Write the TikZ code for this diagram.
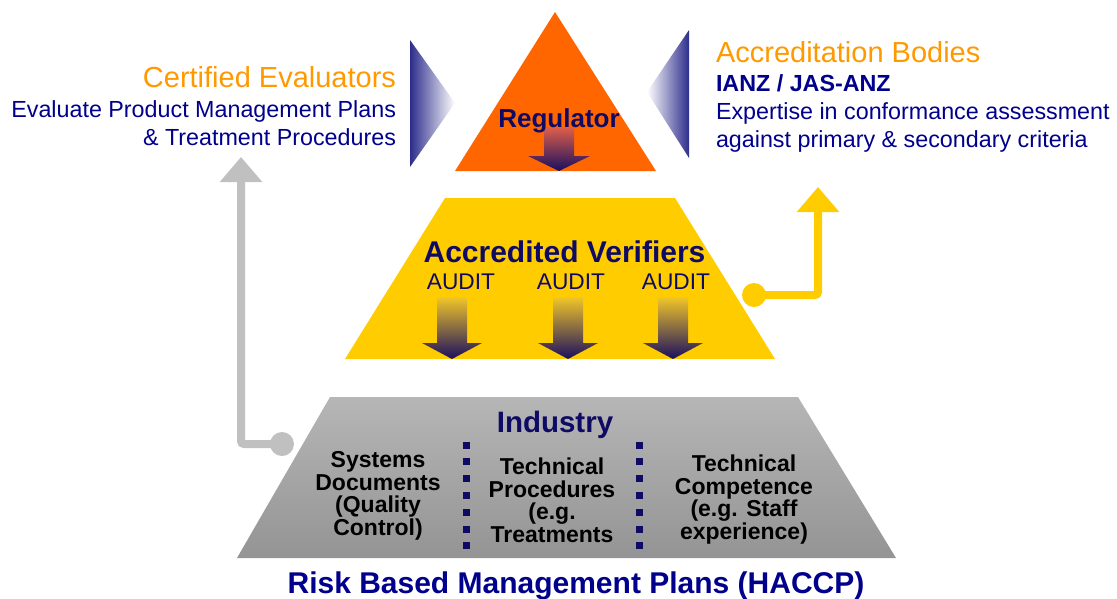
\documentclass[tikz,border=0pt]{standalone}
\usepackage{fontspec}
\setmainfont{Liberation Sans}
\usetikzlibrary{arrows.meta}
\definecolor{navy}{RGB}{0,0,140}
\definecolor{dnavy}{RGB}{15,10,100}
\definecolor{orTri}{RGB}{255,102,0}
\definecolor{orTxt}{RGB}{255,153,0}
\definecolor{yel}{RGB}{255,204,0}
\definecolor{wedgec}{RGB}{45,45,140}
\definecolor{conGray}{RGB}{192,192,192}
\definecolor{arrTop}{RGB}{242,198,40}
\definecolor{arrBot}{RGB}{25,15,95}
\definecolor{regTop}{RGB}{222,95,75}
\definecolor{grTop}{RGB}{182,182,182}
\definecolor{grBot}{RGB}{148,148,148}
\newcommand{\gradArrow}[7]{%
  \shade[top color=#7,bottom color=arrBot]
    (#1-#5,#2) -- (#1+#5,#2) -- (#1+#5,#3) -- (#1+#6,#3) -- (#1,#4)
    -- (#1-#6,#3) -- (#1-#5,#3) -- cycle;}
\tikzset{
  txt/.style={inner sep=0pt, outer sep=0pt},
  headtxt/.style={txt, text=orTxt, font=\fontsize{29}{32}\selectfont},
  bodytxt/.style={txt, text=navy, font=\fontsize{23.3}{28}\selectfont},
  boldbody/.style={txt, text=navy, font=\bfseries\fontsize{23.3}{28}\selectfont},
  colstxt/.style={txt, text=black, align=center, font=\bfseries\fontsize{23}{22.5}\selectfont},
  audittxt/.style={txt, text=dnavy, font=\fontsize{22.7}{26}\selectfont},
  titletxt/.style={txt, text=dnavy, font=\bfseries\fontsize{#1}{#1}\selectfont},
  dotsq/.style={fill=dnavy, minimum size=7pt, inner sep=0pt},
  condot/.style={circle, inner sep=0pt, minimum size=24pt},
  connector/.style={line width=8pt, rounded corners=3pt,
    -{Triangle[width=41pt,length=25pt]}},
}
\begin{document}
\begin{tikzpicture}[x=1pt,y=-1pt]
\useasboundingbox (0,0) rectangle (1117,598);
% top triangle
\fill[orTri] (455,171) -- (555,12) -- (656,171) -- cycle;
% wedges
\shade[left color=wedgec,right color=white] (410,40) -- (455,103) -- (410,167) -- cycle;
\shade[left color=white,right color=wedgec] (689,30) -- (647,92) -- (689,158) -- cycle;
% middle trapezoid
\fill[yel] (445,198) -- (675,198) -- (775,359) -- (345,359) -- cycle;
% bottom trapezoid
\shade[top color=grTop,bottom color=grBot] (330,397) -- (798,397) -- (896,558) -- (237,558) -- cycle;
% arrows
\gradArrow{559}{127}{156}{171}{15}{31}{regTop}
\gradArrow{452}{297}{343}{359}{15}{30}{arrTop}
\gradArrow{568}{297}{343}{359}{15}{30}{arrTop}
\gradArrow{673}{297}{343}{359}{15}{30}{arrTop}
% separators
\foreach \k in {0,...,6} {
  \node[dotsq] (dl\k) at (466,{445+16.8*\k}) {};
  \node[dotsq] (dr\k) at (639,{445+16.8*\k}) {};
}
% connectors
\node[condot, fill=conGray] (gdot) at (282,444) {};
\coordinate (gtip) at (241,157);
\draw[connector, conGray] (gdot.center) -- (gdot.center -| gtip) -- (gtip);
\node[condot, fill=yel] (ydot) at (754,295) {};
\coordinate (ytip) at (818,187);
\draw[connector, yel] (ydot.center) -- (ydot.center -| ytip) -- (ytip);
% left texts
\node[headtxt, anchor=base east] (ceT) at (396,87) {Certified Evaluators};
\node[bodytxt, anchor=base east] (ce1) at (396,117) {Evaluate Product Management Plans};
\node[bodytxt, anchor=base east] (ce2) at (396,145) {\& Treatment Procedures};
% right texts
\node[headtxt, anchor=base west] (abT) at (716,62) {Accreditation Bodies};
\node[boldbody, anchor=base west] (ab1) at (716,91) {IANZ / JAS-ANZ};
\node[bodytxt, anchor=base west] (ab2) at (716,119) {Expertise in conformance assessment};
\node[bodytxt, anchor=base west] (ab3) at (716,147) {against primary \& secondary criteria};
% titles
\node[titletxt=26, anchor=base] (reg) at (559,127) {Regulator};
\node[titletxt=30, anchor=base] (av) at (564.5,262) {Accredited Verifiers};
\node[audittxt, anchor=base] (au1) at (461,289) {AUDIT};
\node[audittxt, anchor=base] (au2) at (571,289) {AUDIT};
\node[audittxt, anchor=base] (au3) at (676,289) {AUDIT};
\node[titletxt=29.5, anchor=base] (ind) at (555,432) {Industry};
% columns (base = baseline of last line)
\node[colstxt, anchor=base] (c1) at (378,535) {Systems\\Documents\\(Quality\\Control)};
\node[colstxt, anchor=base] (c2) at (552,542) {Technical\\Procedures\\(e.g.\\Treatments};
\node[colstxt, anchor=base] (c3) at (744,539) {Technical\\Competence\\(e.g. Staff\\experience)};
% bottom title
\node[titletxt=30, text=navy, anchor=base] (risk) at (576,593) {Risk Based Management Plans (HACCP)};
\end{tikzpicture}
\end{document}
